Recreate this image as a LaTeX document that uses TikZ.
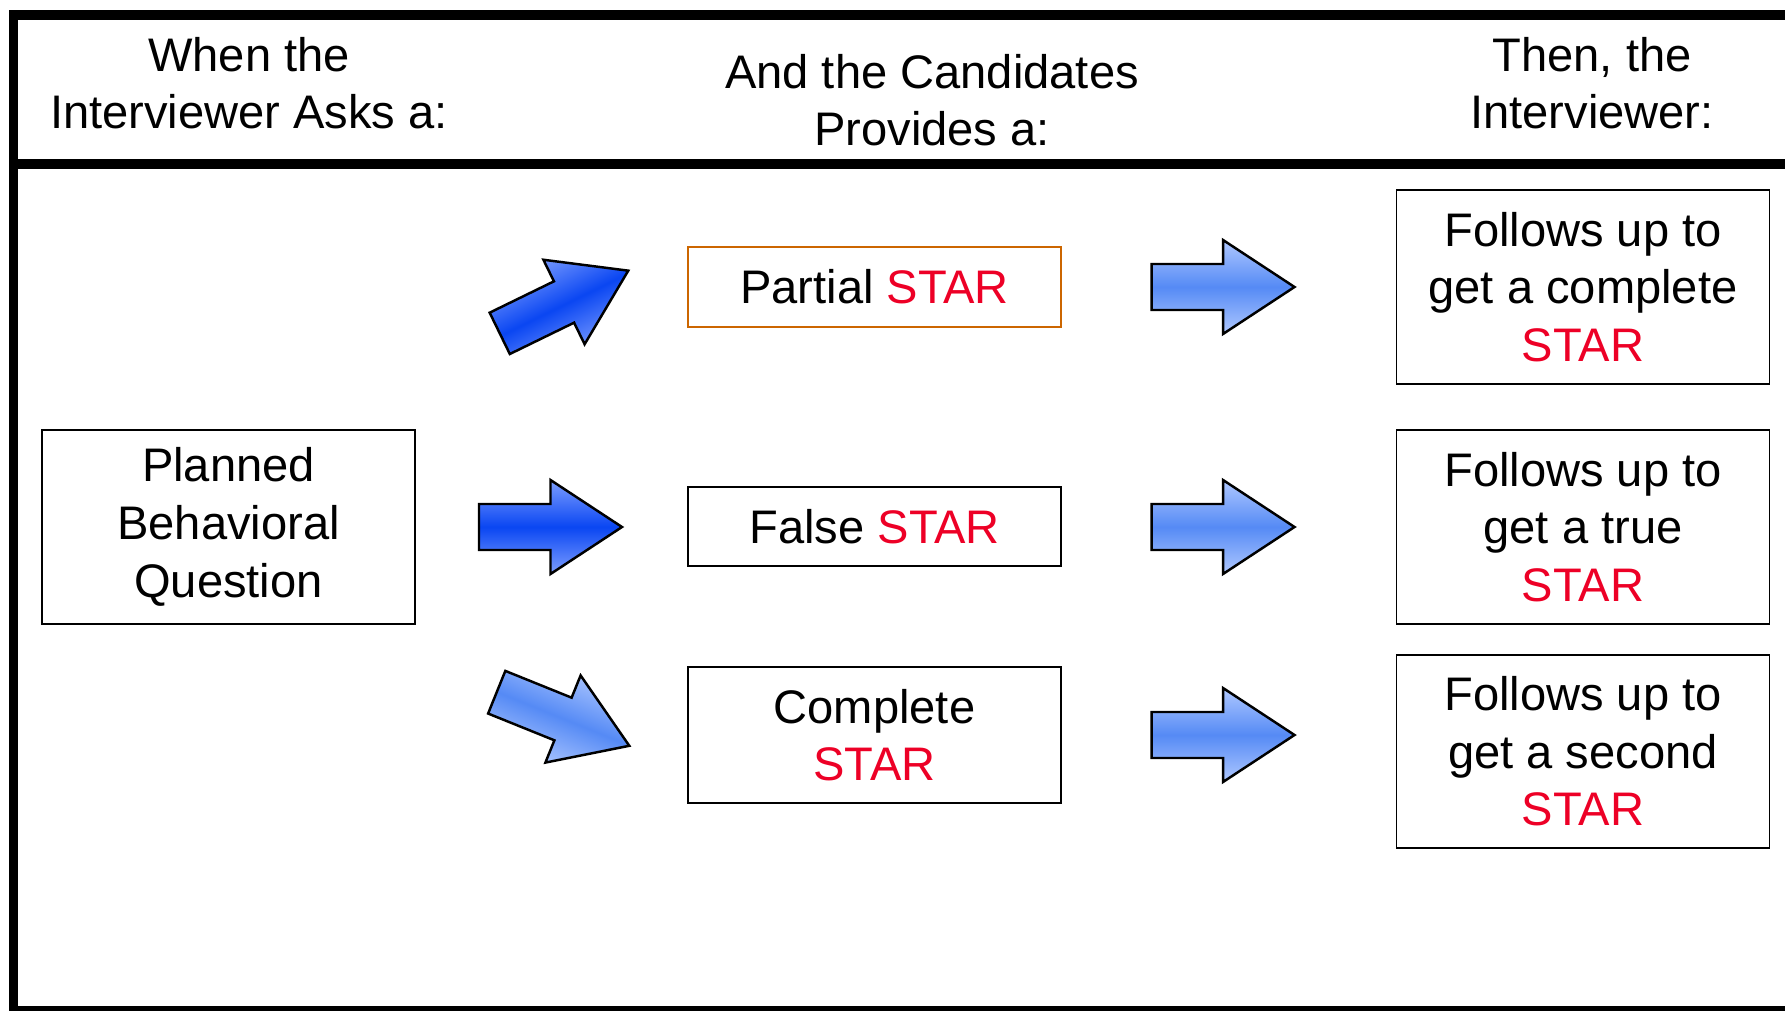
\documentclass[tikz,border=0pt]{standalone}
\usepackage{fontspec}
\setmainfont{Liberation Sans}

\definecolor{starred}{RGB}{237,0,38}
\definecolor{partialedge}{RGB}{204,102,0}
\definecolor{deepmid}{RGB}{10,70,242}
\definecolor{deepedge}{RGB}{125,158,255}
\definecolor{softmid}{RGB}{85,138,245}
\definecolor{softedge}{RGB}{175,200,255}

\newcommand{\starword}{\textcolor{starred}{STAR}}

\tikzset{
  txt/.style={font=\fontsize{13.4pt}{16.4pt}\selectfont, align=center, inner sep=0pt},
  box/.style={txt, draw, line width=0.5pt, minimum width=3.73cm},
  frame/.style={line width=0.095cm, line join=miter},
  deeparrow/.style={draw, line width=0.7pt, top color=deepedge, bottom color=deepedge, middle color=deepmid},
  softarrow/.style={draw, line width=0.7pt, top color=softedge, bottom color=softedge, middle color=softmid},
  pics/blockarrow/.style={code={
    \path[#1] (-0.715,-0.23) -- (0,-0.23) -- (0,-0.47) -- (0.715,0)
      -- (0,0.47) -- (0,0.23) -- (-0.715,0.23) -- cycle;
  }},
}

\begin{document}
\begin{tikzpicture}
\useasboundingbox (0,0) rectangle (17.85,10.10);

% table frame
\draw[frame] (17.95,9.95) -- (0.135,9.95) -- (0.135,-0.01) -- (17.95,-0.01);
\draw[frame] (0.135,8.462) -- (17.95,8.462);

% column heads
\node[txt] (hdAsk) at (2.49,9.27) {When the\\Interviewer Asks a:};
\node[txt] (hdGives) at (9.32,9.10) {And the Candidates\\Provides a:};
\node[txt] (hdThen) at (15.92,9.27) {Then, the\\Interviewer:};

% question
\node[box, minimum height=1.94cm] (question) at (2.285,4.83) {Planned\\Behavioral\\Question};

% answers
\node[box, draw=partialedge, minimum height=0.80cm] (partial) at (8.745,7.23) {Partial \starword};
\node[box, minimum height=0.79cm] (false) at (8.745,4.835) {False \starword};
\node[box, minimum height=1.36cm] (complete) at (8.745,2.75) {Complete\\\starword};

% follow ups
\node[box, minimum height=1.94cm] (followA) at (15.83,7.23) {Follows up to\\get a complete\\\starword};
\node[box, minimum height=1.94cm] (followB) at (15.83,4.83) {Follows up to\\get a true\\\starword};
\node[box, minimum height=1.93cm] (followC) at (15.83,2.585) {Follows up to\\get a second\\\starword};

% block arrows
\pic[rotate=26] (arrPartial) at (5.64,7.08) {blockarrow={deeparrow, shading angle=26}};
\pic (arrFalse) at (5.505,4.83) {blockarrow={deeparrow}};
\pic[rotate=-22] (arrComplete) at (5.63,2.91) {blockarrow={softarrow, shading angle=-22}};
\pic (arrA) at (12.23,7.23) {blockarrow={softarrow}};
\pic (arrB) at (12.23,4.83) {blockarrow={softarrow}};
\pic (arrC) at (12.23,2.75) {blockarrow={softarrow}};
\end{tikzpicture}
\end{document}
